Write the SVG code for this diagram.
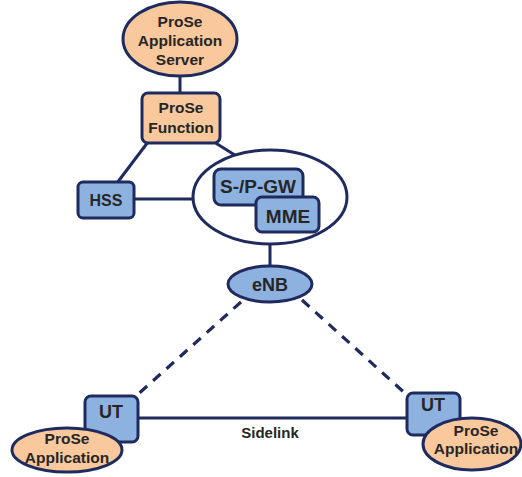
<svg xmlns="http://www.w3.org/2000/svg" width="522" height="477" viewBox="0 0 522 477">
  <style>
    .ln { stroke: #1f2b5e; stroke-width: 3; fill: none; }
    .dash { stroke: #1f2b5e; stroke-width: 3.2; fill: none; stroke-dasharray: 10 8; }
    .blue { fill: #8eb2e0; stroke: #1f2b5e; stroke-width: 3; }
    .peach { fill: #f9c89c; stroke: #1f2b5e; stroke-width: 3; }
    .plain { fill: #ffffff; stroke: #1f2b5e; stroke-width: 3; }
    text { font-family: "Liberation Sans", Arial, sans-serif; font-weight: bold; fill: #262626; text-anchor: middle; }
    .t15 { font-size: 15.5px; }
    .t16 { font-size: 16px; }
    .t18 { font-size: 18px; }
    .t19 { font-size: 19px; }
    .tsl { font-size: 15px; }
  </style>

  <!-- connectors -->
  <g id="connectors">
    <line class="ln" x1="180" y1="75" x2="180" y2="94"/>
    <line class="ln" x1="148" y1="142" x2="117" y2="183"/>
    <line class="ln" x1="214" y1="142" x2="238" y2="157"/>
    <line class="ln" x1="134" y1="199" x2="194" y2="199"/>
    <line class="ln" x1="270" y1="243" x2="270" y2="267"/>
    <line class="dash" x1="241" y1="302" x2="136" y2="396"/>
    <line class="dash" x1="302" y1="300" x2="407" y2="395"/>
    <line class="ln" x1="137" y1="418" x2="408" y2="418"/>
    <text class="tsl" x="270" y="438">Sidelink</text>
  </g>

  <g id="prose-as">
    <ellipse class="peach" cx="180" cy="39" rx="57" ry="37"/>
    <text class="t15" x="180" y="27">ProSe</text>
    <text class="t15" x="180" y="46">Application</text>
    <text class="t15" x="180" y="65">Server</text>
  </g>

  <g id="prose-function">
    <rect class="peach" x="142" y="93" width="78" height="50" rx="6"/>
    <text class="t15" x="181" y="113">ProSe</text>
    <text class="t15" x="181" y="133">Function</text>
  </g>

  <g id="hss">
    <rect class="blue" x="78" y="182" width="56" height="36" rx="5"/>
    <text class="t16" x="106" y="206">HSS</text>
  </g>

  <g id="core">
    <ellipse class="plain" cx="270" cy="197" rx="77" ry="47"/>
  </g>

  <g id="spgw">
    <rect class="blue" x="214" y="169" width="89" height="36" rx="7"/>
    <text class="t19" x="258" y="193">S-/P-GW</text>
  </g>

  <g id="mme">
    <rect class="blue" x="256" y="197" width="63" height="35" rx="6"/>
    <text class="t19" x="288" y="223">MME</text>
  </g>

  <g id="enb">
    <ellipse class="blue" cx="270" cy="284" rx="42" ry="18"/>
    <text class="t18" x="270" y="291">eNB</text>
  </g>

  <g id="ut-left">
    <rect class="blue" x="85" y="396" width="53" height="46" rx="6"/>
    <text class="t18" x="111" y="418">UT</text>
  </g>

  <g id="app-left">
    <ellipse class="peach" cx="67" cy="450" rx="55" ry="22"/>
    <text class="t15" x="67" y="444">ProSe</text>
    <text class="t15" x="67" y="463">Application</text>
  </g>

  <g id="ut-right">
    <rect class="blue" x="407" y="393" width="53" height="42" rx="6"/>
    <text class="t18" x="433" y="411">UT</text>
  </g>

  <g id="app-right">
    <ellipse class="peach" cx="472" cy="444" rx="49" ry="26"/>
    <text class="t15" x="476" y="436">ProSe</text>
    <text class="t15" x="476" y="454">Application</text>
  </g>
</svg>
